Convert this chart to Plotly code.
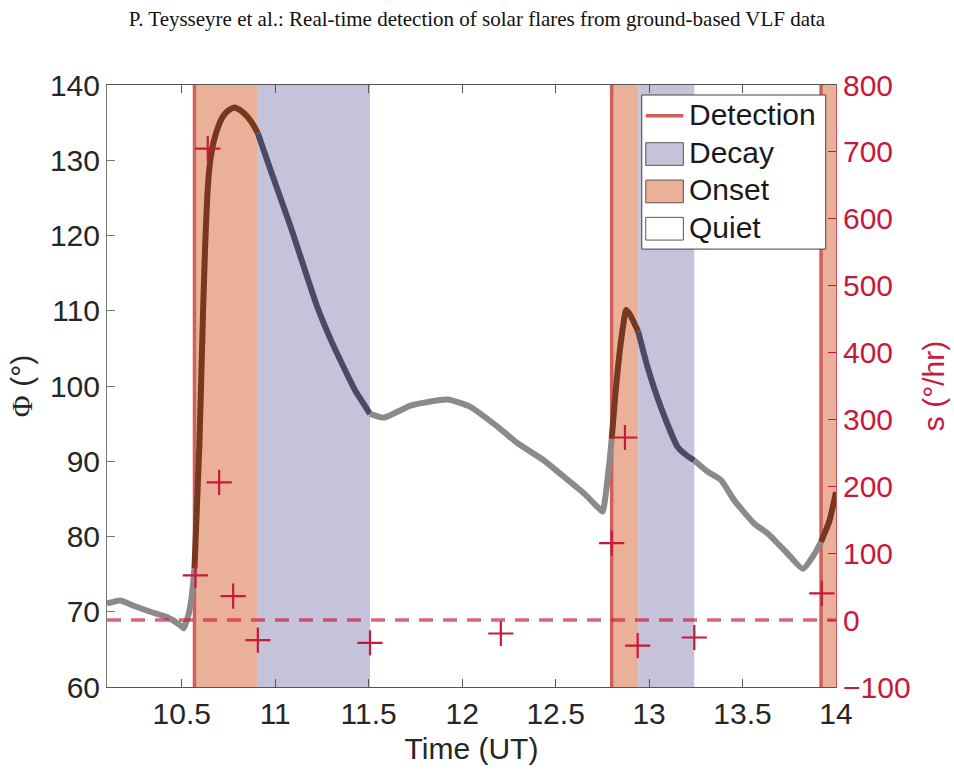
import plotly.graph_objects as go

# ---------------- data ----------------
time_h = [10.100, 10.171, 10.242, 10.332, 10.421, 10.492, 10.510, 10.537, 10.555, 10.568,
          10.594, 10.614, 10.625, 10.636, 10.650, 10.671, 10.700, 10.725, 10.755, 10.782,
          10.815, 10.850, 10.880, 10.907,
          10.975, 11.082, 11.225, 11.300, 11.370, 11.430, 11.474, 11.507,
          11.582, 11.725, 11.921, 12.046, 12.189, 12.296, 12.438, 12.546, 12.653, 12.725,
          12.751, 12.787, 12.800,
          12.820, 12.850, 12.878, 12.900, 12.942,
          12.992, 13.063, 13.153, 13.200, 13.242,
          13.314, 13.385, 13.456, 13.563, 13.635, 13.742, 13.823, 13.885, 13.920,
          13.964, 14.000]
phi_deg = [71.1, 71.5, 70.8, 70.0, 69.3, 68.2, 67.8, 69.7, 72.4, 75.8,
           92.0, 110.0, 118.5, 125.0, 129.5, 132.5, 134.8, 136.0, 136.7, 137.0,
           136.6, 135.8, 134.8, 133.6,
           128.7, 121.2, 110.5, 106.0, 102.3, 99.3, 97.6, 96.3,
           95.8, 97.4, 98.2, 97.2, 94.6, 92.4, 90.1, 87.9, 85.7, 83.9,
           83.3, 89.7, 93.0,
           99.0, 106.0, 110.1, 109.4, 107.2,
           102.5, 97.2, 91.9, 90.8, 90.1,
           88.6, 87.5, 84.8, 81.7, 80.4, 77.7, 75.7, 77.7, 79.3,
           82.0, 85.9]

cross_time = [10.573, 10.639, 10.700, 10.775, 10.907, 11.507, 12.207, 12.800, 12.871, 12.939, 13.242, 13.924]
cross_s = [67, 705, 206, 36, -30, -34, -20, 115, 273, -38, -26, 40]

detection_time = [10.568, 12.800, 13.920]
onset_start = [10.568, 12.800, 13.920]
onset_end = [10.907, 12.942, 14.000]
decay_start = [10.907, 12.942]
decay_end = [11.507, 13.242]

zero_line_time = [10.1, 14.0]
zero_line_s = [0, 0]

x_ticks = [10.5, 11, 11.5, 12, 12.5, 13, 13.5, 14]
x_tick_text = ["10.5", "11", "11.5", "12", "12.5", "13", "13.5", "14"]
phi_ticks = [60, 70, 80, 90, 100, 110, 120, 130, 140]
s_ticks = [-100, 0, 100, 200, 300, 400, 500, 600, 700, 800]

legend_labels = ["Detection", "Decay", "Onset", "Quiet"]

# ---------------- styles ----------------
FONT = "Liberation Sans, Arial, sans-serif"
RED = "#c8193c"
ONSET_FILL = "#ebb098"
DECAY_FILL = "#c4c3d9"
DET_COLOR = "#d0605a"
LINE_COLORS = {"quiet": "#8a8a8a", "onset": "#76381f", "decay": "#4a4a66"}

fig = go.Figure()

# shaded phases
for a, b in zip(onset_start, onset_end):
    fig.add_shape(type="rect", xref="x", yref="paper", x0=a, x1=b, y0=0, y1=1,
                  fillcolor=ONSET_FILL, line_width=0, layer="below")
for a, b in zip(decay_start, decay_end):
    fig.add_shape(type="rect", xref="x", yref="paper", x0=a, x1=b, y0=0, y1=1,
                  fillcolor=DECAY_FILL, line_width=0, layer="below")
for t in detection_time:
    fig.add_shape(type="line", xref="x", yref="paper", x0=t, x1=t, y0=0, y1=1,
                  line=dict(color=DET_COLOR, width=3.5), layer="below")

# phase segments of the curve
bounds = sorted(set([time_h[0], time_h[-1]] + onset_start + onset_end + decay_start + decay_end))
def phase_of(mid):
    for a, b in zip(onset_start, onset_end):
        if a <= mid <= b:
            return "onset"
    for a, b in zip(decay_start, decay_end):
        if a <= mid <= b:
            return "decay"
    return "quiet"

for a, b in zip(bounds[:-1], bounds[1:]):
    xs = [t for t in time_h if a - 1e-9 <= t <= b + 1e-9]
    ys = [p for t, p in zip(time_h, phi_deg) if a - 1e-9 <= t <= b + 1e-9]
    if len(xs) < 2:
        continue
    fig.add_trace(go.Scatter(x=xs, y=ys, mode="lines",
                             line=dict(color=LINE_COLORS[phase_of((a + b) / 2)], width=6,
                                       shape="spline", smoothing=0.5),
                             showlegend=False, hoverinfo="skip"))

# zero line on right axis
fig.add_trace(go.Scatter(x=zero_line_time, y=zero_line_s, yaxis="y2", mode="lines",
                         line=dict(color="rgba(200,30,60,0.68)", width=3.5, dash="14px,10px"),
                         showlegend=False, hoverinfo="skip"))
# s crosses
fig.add_trace(go.Scatter(x=cross_time, y=cross_s, yaxis="y2", mode="markers",
                         marker=dict(symbol="cross-thin", size=18,
                                     line=dict(color=RED, width=2.2)),
                         showlegend=False))

# ---------------- manual legend ----------------
def px2paper_x(px):
    return (px - 106.7) / 729.3
def px2paper_y(py):
    return (686.7 - py) / 601.7

fig.add_shape(type="rect", xref="paper", yref="paper",
              x0=px2paper_x(641.7), x1=px2paper_x(825.7), y0=px2paper_y(249), y1=px2paper_y(95),
              fillcolor="white", line=dict(color="#444", width=1), layer="above")
sw_x0, sw_x1 = px2paper_x(645.7), px2paper_x(683.3)
fig.add_shape(type="line", xref="paper", yref="paper", x0=sw_x0, x1=sw_x1,
              y0=px2paper_y(115.7), y1=px2paper_y(115.7),
              line=dict(color=DET_COLOR, width=3.5), layer="above")
box_rows = [(142.7, 165.3, DECAY_FILL), (180, 202.7, ONSET_FILL), (217.3, 240, "white")]
for top, bot, col in box_rows:
    fig.add_shape(type="rect", xref="paper", yref="paper", x0=sw_x0, x1=sw_x1,
                  y0=px2paper_y(bot), y1=px2paper_y(top), fillcolor=col,
                  line=dict(color="#555", width=1), layer="above")
text_y = [114, 152, 189.5, 227]
for lab, ty in zip(legend_labels, text_y):
    fig.add_annotation(x=px2paper_x(686.5), y=px2paper_y(ty), xref="paper", yref="paper",
                       text=lab, showarrow=False, xanchor="left", yanchor="middle",
                       font=dict(family=FONT, size=30, color="#1a1a1a"))

fig.update_layout(
    width=954, height=775,
    margin=dict(l=107, r=118, t=85, b=88, autoexpand=False),
    paper_bgcolor="white", plot_bgcolor="white",
    title=dict(text="P. Teysseyre et al.: Real-time detection of solar flares from ground-based VLF data",
               x=0.5, xref="container", xanchor="center",
               y=1 - 19 / 775, yref="container", yanchor="middle",
               font=dict(family="Liberation Serif, Times New Roman, serif", size=21, color="#111")),
    xaxis=dict(range=[10.1, 14.0], tickvals=x_ticks, ticktext=x_tick_text,
               showgrid=False, zeroline=False, showline=True, linecolor="#555", linewidth=1,
               mirror="ticks", ticks="inside", ticklen=8, tickcolor="#555",
               tickfont=dict(family=FONT, size=30, color="#262626"),
               title=dict(text="Time (UT)", standoff=8, font=dict(family=FONT, size=30, color="#262626")),
               automargin=False),
    yaxis=dict(range=[60, 140], tickvals=phi_ticks,
               showgrid=False, zeroline=False, showline=True, linecolor="#777", linewidth=1,
               ticks="inside", ticklen=8, tickcolor="#777",
               tickfont=dict(family=FONT, size=30, color="#262626"),
               title=dict(text="<span style='font-family:Liberation Serif'>Φ</span> (°)", standoff=8,
                          font=dict(family=FONT, size=30, color="#262626")),
               automargin=False),
    yaxis2=dict(range=[-100, 800], tickvals=s_ticks, overlaying="y", side="right",
                showgrid=False, zeroline=False, showline=True, linecolor="#d94d63", linewidth=1,
                ticks="inside", ticklen=8, tickcolor=RED,
                tickfont=dict(family=FONT, size=30, color=RED),
                title=dict(text="s (°/hr)", standoff=13, font=dict(family=FONT, size=30, color=RED)),
                automargin=False),
    showlegend=False,
)

fig.write_html("out.html")
